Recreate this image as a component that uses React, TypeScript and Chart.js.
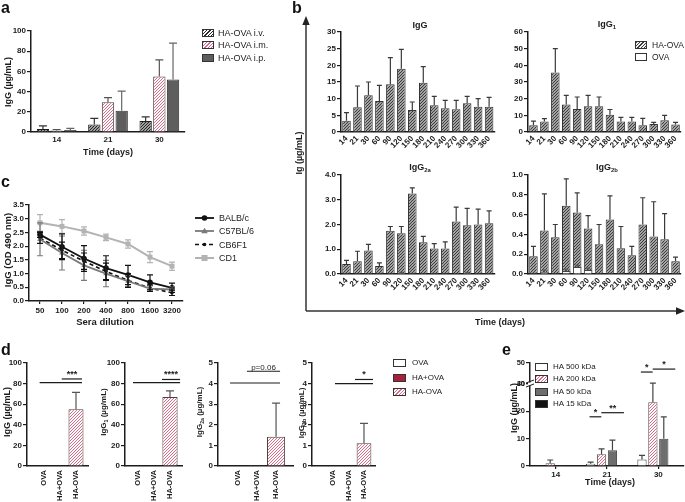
import React, { useEffect, useRef } from "react";
import { Chart, registerables } from "chart.js";
Chart.register(...registerables);

const FONT = "'Liberation Sans', Arial, Helvetica, sans-serif";
const INK = "#1c1c1c";

// ---------------- panel a ----------------
const aDays = ["14", "21", "30"];
const aIV = [3, 7.5, 11];
const aIVErr = [3, 6, 4];
const aIM = [1.5, 29.5, 55];
const aIMErr = [1, 4.5, 16.5];
const aIP = [2, 21, 52];
const aIPErr = [1.5, 19.5, 36];

// ---------------- panel b ----------------
const bDays = ["14", "21", "30", "60", "90", "120", "150", "180", "210", "240", "270", "300", "330", "360"];
const bIgG_HA = [3.4, 7.4, 11, 9.3, 14.3, 19, 6.6, 14.8, 8, 7.1, 6.8, 8.6, 7.6, 7.6];
const bIgG_HAerr = [2.4, 6.4, 4, 4.7, 8, 5.8, 2.4, 4.8, 2.7, 2.4, 2.7, 2.1, 2.4, 2.8];
const bIgG_OVA = [0, 0, 0, 0, 0, 0, 0, 0, 0, 0, 0, 0, 0, 0];
const bIgG1_HA = [4, 6.3, 35.7, 16.5, 13.8, 15.5, 15.5, 10.3, 6.3, 6.3, 4, 4.8, 7, 4.5];
const bIgG1_HAerr = [2.5, 1.7, 14.3, 5.5, 7.2, 6.5, 5.5, 3.2, 2.5, 2.5, 4.2, 1, 3, 1.3];
const bIgG1_OVA = [0, 0, 0, 0, 0, 0, 0, 0, 0, 0, 0, 0, 0, 0];
const bIgG2a_HA = [0.4, 0.52, 0.95, 0.32, 1.75, 1.65, 3.25, 1.28, 1.03, 1.03, 2.12, 1.97, 2.0, 2.05];
const bIgG2a_HAerr = [0.15, 0.4, 0.25, 0.13, 0.17, 0.27, 0.23, 0.24, 0.2, 0.27, 0.58, 0.68, 0.62, 0.5];
const bIgG2a_OVA = [0, 0, 0, 0, 0, 0.04, 0, 0, 0, 0, 0, 0.04, 0, 0];
const bIgG2a_OVAerr = [0, 0, 0, 0, 0, 0.03, 0, 0, 0, 0, 0, 0.03, 0, 0];
const bIgG2b_HA = [0.18, 0.44, 0.37, 0.69, 0.62, 0.46, 0.3, 0.55, 0.26, 0.19, 0.5, 0.38, 0.35, 0.13];
const bIgG2b_HAerr = [0.1, 0.37, 0.13, 0.27, 0.2, 0.13, 0.2, 0.24, 0.22, 0.09, 0.27, 0.35, 0.26, 0.04];
const bIgG2b_OVA = [0, 0.02, 0, 0.03, 0.07, 0.04, 0, 0, 0, 0, 0, 0, 0, 0];
const bIgG2b_OVAerr = [0, 0.02, 0, 0.02, 0.02, 0.02, 0, 0, 0, 0, 0, 0, 0, 0];

// ---------------- panel c ----------------
const dilutions = ["50", "100", "200", "400", "800", "1600", "3200"];
const cBALB = [2.42, 1.98, 1.55, 1.2, 0.95, 0.68, 0.48];
const cBALBerr = [0.1, 0.47, 0.47, 0.45, 0.35, 0.27, 0.17];
const cC57 = [2.25, 1.75, 1.3, 1.0, 0.72, 0.45, 0.42];
const cC57err = [0.6, 0.62, 0.55, 0.48, 0.2, 0.1, 0.1];
const cCB6 = [2.3, 1.85, 1.45, 1.08, 0.75, 0.47, 0.3];
const cCB6err = [0.2, 0.3, 0.3, 0.3, 0.25, 0.12, 0.1];
const cCD1 = [2.85, 2.72, 2.55, 2.32, 2.08, 1.6, 1.27];
const cCD1err = [0.3, 0.25, 0.15, 0.12, 0.15, 0.2, 0.15];

// ---------------- panel d ----------------
const dGroups = ["OVA", "HA+OVA", "HA-OVA"];
const dIgG = [0, 0, 55];
const dIgGerr = [0, 0, 16.5];
const dIgG1 = [0, 0.3, 67];
const dIgG1err = [0, 0, 6];
const dIgG2a = [0.02, 0.05, 1.42];
const dIgG2aerr = [0, 0, 1.63];
const dIgG2b = [0.03, 0.03, 1.1];
const dIgG2berr = [0, 0, 0.97];

// ---------------- panel e ----------------
const eDays = ["14", "21", "30"];
const e500 = [0.1, 0.8, 2.4];
const e500err = [0, 0.6, 1.5];
const e200 = [1.0, 4.3, 23.3];
const e200err = [1.2, 2, 7];
const e50 = [0.3, 5.8, 10];
const e50err = [0, 3.7, 8];
const e15 = [0.15, 0.15, 0.1];
const e15err = [0, 0, 0];

// ---------------- helpers ----------------
type Box = { L: number; T: number; W: number; H: number; PL: number; PR: number; PT: number; PB: number };

function hatch(ctx: CanvasRenderingContext2D, line: string, bg = "#fff", sp = 3, lw = 1) {
  const c = document.createElement("canvas");
  c.width = sp; c.height = sp;
  const g = c.getContext("2d")!;
  g.fillStyle = bg; g.fillRect(0, 0, sp, sp);
  g.strokeStyle = line; g.lineWidth = lw;
  g.beginPath();
  g.moveTo(0, sp); g.lineTo(sp, 0);
  g.moveTo(-1, 1); g.lineTo(1, -1);
  g.moveTo(sp - 1, sp + 1); g.lineTo(sp + 1, sp - 1);
  g.stroke();
  return ctx.createPattern(c, "repeat");
}

const errorPlugin = {
  id: "errbars",
  afterDatasetsDraw(chart: any) {
    const ctx = chart.ctx;
    chart.data.datasets.forEach((ds: any, i: number) => {
      if (!ds.errors) return;
      const meta = chart.getDatasetMeta(i);
      const ys = chart.scales[meta.yAxisID];
      ctx.save();
      ctx.strokeStyle = ds.errorColor || "#333";
      ctx.lineWidth = ds.errorWidth || 1.2;
      const cap = ds.capHalf ?? 3;
      meta.data.forEach((el: any, j: number) => {
        const e = ds.errors[j];
        if (!e) return;
        const raw = ds.data[j];
        const v = typeof raw === "object" ? raw.y : raw;
        const top = ys.getPixelForValue(v + e);
        const bot = ds.bothWays ? ys.getPixelForValue(v - e) : el.y;
        ctx.beginPath();
        ctx.moveTo(el.x, bot); ctx.lineTo(el.x, top);
        ctx.moveTo(el.x - cap, top); ctx.lineTo(el.x + cap, top);
        if (ds.bothWays) { ctx.moveTo(el.x - cap, bot); ctx.lineTo(el.x + cap, bot); }
        ctx.stroke();
      });
      ctx.restore();
    });
  },
};

const bracketPlugin = {
  id: "brackets",
  afterDraw(chart: any, _a: any, opts: any) {
    const items = (opts && opts.items) || [];
    const ctx = chart.ctx;
    items.forEach((b: any) => {
      const xs = chart.scales.x;
      const ys = chart.scales[b.axis || "y"];
      const x1 = xs.getPixelForValue(b.x1), x2 = xs.getPixelForValue(b.x2), y = ys.getPixelForValue(b.y);
      ctx.save();
      ctx.strokeStyle = INK; ctx.lineWidth = 1.2;
      ctx.beginPath(); ctx.moveTo(x1, y); ctx.lineTo(x2, y); ctx.stroke();
      if (b.label) {
        ctx.fillStyle = INK;
        ctx.font = `${b.weight || "bold"} ${b.size || 9}px ${FONT}`;
        ctx.textAlign = "center"; ctx.textBaseline = "alphabetic";
        ctx.fillText(b.label, (x1 + x2) / 2, y - (b.lift ?? 2));
      }
      ctx.restore();
    });
  },
};

const breakPlugin = {
  id: "axisbreak",
  afterDraw(chart: any) {
    const ctx = chart.ctx;
    const x = chart.chartArea.left;
    const y = chart.scales.y.top;
    ctx.save();
    ctx.fillStyle = "#fff";
    ctx.fillRect(x - 2, y - 1.5, 4, 3);
    ctx.strokeStyle = INK; ctx.lineWidth = 1;
    ctx.beginPath();
    ctx.moveTo(x - 4, y - 1); ctx.lineTo(x + 4, y - 4);
    ctx.moveTo(x - 4, y + 3); ctx.lineTo(x + 4, y);
    ctx.stroke();
    ctx.restore();
  },
};

function baseOpts(b: Box) {
  return {
    animation: false,
    responsive: false,
    events: [],
    layout: { padding: { left: 0, top: b.PT - b.T, right: b.L + b.W - b.PR, bottom: 0 } },
    plugins: { legend: { display: false }, tooltip: { enabled: false } },
  };
}

function yScale(b: Box, min: number, max: number, step: number, dec = 0, size = 8, extra: any = {}) {
  return {
    type: "linear",
    min, max,
    afterFit: (s: any) => { s.width = b.PL - b.L; },
    border: { display: true, color: INK, width: 1.5 },
    grid: { display: true, drawOnChartArea: false, drawTicks: true, tickLength: 4, color: INK, lineWidth: 1.2 },
    ticks: {
      stepSize: step, padding: 1, color: INK,
      font: { family: FONT, size, weight: "bold" },
      callback: (v: any) => Number(v).toFixed(dec),
    },
    ...extra,
  };
}

function xCat(b: Box, rot = 0, pad = 3, ticks = false, size = 8) {
  return {
    type: "category",
    offset: true,
    afterFit: (s: any) => { s.height = b.T + b.H - b.PB; },
    border: { display: true, color: INK, width: 1.5 },
    grid: { display: true, drawOnChartArea: false, drawTicks: ticks, tickLength: 3, color: INK, lineWidth: 1.2, offset: false },
    ticks: {
      autoSkip: false, minRotation: rot, maxRotation: rot, padding: pad, color: INK,
      font: { family: FONT, size, weight: "bold" },
    },
  };
}

function ChartCanvas({ box, build }: { box: Box; build: (ctx: CanvasRenderingContext2D) => any }) {
  const ref = useRef<HTMLCanvasElement | null>(null);
  useEffect(() => {
    const cv = ref.current!;
    const ctx = cv.getContext("2d")!;
    const chart = new Chart(cv, build(ctx));
    return () => chart.destroy();
  }, []);
  return (
    <canvas
      ref={ref}
      width={box.W}
      height={box.H}
      style={{ position: "absolute", left: box.L, top: box.T, width: box.W, height: box.H }}
    />
  );
}

// ---------------- boxes ----------------
const boxA: Box = { L: 0, T: 22, W: 190, H: 142, PL: 31, PR: 185, PT: 31, PB: 132 };
const boxB1: Box = { L: 318, T: 26, W: 180, H: 128, PL: 341, PR: 495, PT: 32, PB: 132 };
const boxB2: Box = { L: 505, T: 26, W: 180, H: 128, PL: 528, PR: 681, PT: 32, PB: 132 };
const boxB3: Box = { L: 318, T: 169, W: 180, H: 128, PL: 341, PR: 495, PT: 175, PB: 274 };
const boxB4: Box = { L: 505, T: 169, W: 180, H: 128, PL: 528, PR: 681, PT: 175, PB: 274 };
const boxC: Box = { L: 0, T: 197, W: 190, H: 120, PL: 29, PR: 183, PT: 205, PB: 301 };
const boxD1: Box = { L: 0, T: 355, W: 92, H: 147, PL: 27, PR: 88, PT: 363, PB: 466 };
const boxD2: Box = { L: 100, T: 355, W: 86, H: 147, PL: 125, PR: 182, PT: 363, PB: 466 };
const boxD3: Box = { L: 195, T: 355, W: 102, H: 147, PL: 218, PR: 293, PT: 363, PB: 466 };
const boxD4: Box = { L: 298, T: 355, W: 80, H: 147, PL: 312, PR: 375, PT: 363, PB: 466 };
const boxE: Box = { L: 511, T: 355, W: 174, H: 126, PL: 530, PR: 684, PT: 363, PB: 466 };

// ---------------- builders ----------------
const buildA = (ctx: CanvasRenderingContext2D) => ({
  type: "bar",
  data: {
    labels: aDays,
    datasets: [
      { data: aIV, errors: aIVErr, errorColor: "#333", capHalf: 4, backgroundColor: hatch(ctx, "#262626", "#fff", 3, 1.3), borderColor: INK, borderWidth: 1 },
      { data: aIM, errors: aIMErr, errorColor: "#555", capHalf: 4, backgroundColor: hatch(ctx, "#df6a86"), borderColor: "#444", borderWidth: 1 },
      { data: aIP, errors: aIPErr, errorColor: "#666", capHalf: 4, backgroundColor: "#5e5e5e", borderColor: "#333", borderWidth: 1 },
    ],
  },
  options: {
    ...baseOpts(boxA),
    datasets: { bar: { categoryPercentage: 0.8, barPercentage: 0.9 } },
    scales: { x: xCat(boxA, 0, 3), y: yScale(boxA, 0, 100, 20) },
  },
  plugins: [errorPlugin],
});

function buildB(box: Box, ha: number[], haErr: number[], ova: number[], ovaErr: number[] | null, max: number, step: number, dec: number) {
  return (ctx: CanvasRenderingContext2D) => ({
    type: "bar",
    data: {
      labels: bDays,
      datasets: [
        { data: ova, errors: ovaErr, errorColor: "#555", capHalf: 2, backgroundColor: "#fff", borderColor: "#444", borderWidth: 1 },
        { data: ha, errors: haErr, errorColor: "#3a3a3a", capHalf: 2.5, backgroundColor: hatch(ctx, "#3c3c3c", "#f2f2f2", 3, 1.25), borderColor: "#333", borderWidth: 1 },
      ],
    },
    options: {
      ...baseOpts(box),
      datasets: { bar: { categoryPercentage: 1, barPercentage: 0.78, grouped: false } },
      scales: { x: xCat(box, 45, 2), y: yScale(box, 0, max, step, dec) },
    },
    plugins: [errorPlugin],
  });
}

const buildC = () => ({
  type: "line",
  data: {
    labels: dilutions,
    datasets: [
      { data: cCD1, errors: cCD1err, bothWays: true, errorColor: "#b3b3b3", capHalf: 3, borderColor: "#b3b3b3", backgroundColor: "#b3b3b3", borderWidth: 2, pointStyle: "rect", pointRadius: 3.5, pointBorderWidth: 0, tension: 0 },
      { data: cC57, errors: cC57err, bothWays: true, errorColor: "#7a7a7a", capHalf: 3, borderColor: "#7a7a7a", backgroundColor: "#7a7a7a", borderWidth: 1.8, pointStyle: "triangle", pointRadius: 3.2, pointBorderWidth: 0, tension: 0 },
      { data: cCB6, errors: cCB6err, bothWays: true, errorColor: "#111", capHalf: 3, borderColor: "#111", backgroundColor: "#111", borderWidth: 1.6, borderDash: [4, 3], pointStyle: "circle", pointRadius: 1.8, pointBorderWidth: 0, tension: 0 },
      { data: cBALB, errors: cBALBerr, bothWays: true, errorColor: "#111", capHalf: 3, borderColor: "#111", backgroundColor: "#111", borderWidth: 1.8, pointStyle: "circle", pointRadius: 2.8, pointBorderWidth: 0, tension: 0 },
    ],
  },
  options: {
    ...baseOpts(boxC),
    scales: { x: xCat(boxC, 0, 2, true), y: yScale(boxC, 0, 3.5, 0.5, 1) },
  },
  plugins: [errorPlugin],
});

function buildD(box: Box, vals: number[], errs: number[], xmin: number, xmax: number, ymax: number, ystep: number, brackets: any[]) {
  return (ctx: CanvasRenderingContext2D) => ({
    type: "bar",
    data: {
      datasets: [
        {
          data: dGroups.map((_, i) => ({ x: i + 1, y: vals[i] })),
          errors: errs, errorColor: "#555", capHalf: 4,
          backgroundColor: ["#ffffff", "#a8203c", hatch(ctx, "#df6a86")],
          borderColor: "#444", borderWidth: 1,
        },
      ],
    },
    options: {
      ...baseOpts(box),
      datasets: { bar: { categoryPercentage: 1, barPercentage: 0.95 } },
      plugins: { legend: { display: false }, tooltip: { enabled: false }, brackets: { items: brackets } },
      scales: {
        x: {
          type: "linear", min: xmin, max: xmax, offset: false,
          afterFit: (s: any) => { s.height = box.T + box.H - box.PB; },
          border: { display: true, color: INK, width: 1.5 },
          grid: { display: true, drawOnChartArea: false, drawTicks: false, offset: false },
          ticks: {
            stepSize: 1, includeBounds: false, autoSkip: false, minRotation: 90, maxRotation: 90, padding: 4, color: INK,
            font: { family: FONT, size: 7.5, weight: "bold" },
            callback: (v: any) => dGroups[v - 1] ?? "",
          },
        },
        y: yScale(box, 0, ymax, ystep),
      },
    },
    plugins: [errorPlugin, bracketPlugin],
  });
}

const buildE = (ctx: CanvasRenderingContext2D) => ({
  type: "bar",
  data: {
    labels: eDays,
    datasets: [
      { data: e500, errors: e500err, errorColor: "#444", capHalf: 3, backgroundColor: "#ffffff", borderColor: "#444", borderWidth: 1 },
      { data: e200, errors: e200err, errorColor: "#444", capHalf: 3, backgroundColor: hatch(ctx, "#df6a86"), borderColor: "#555", borderWidth: 1 },
      { data: e50, errors: e50err, errorColor: "#444", capHalf: 3, backgroundColor: "#6e6e6e", borderColor: "#444", borderWidth: 1 },
      { data: e15, errors: e15err, errorColor: "#111", capHalf: 3, backgroundColor: "#111111", borderColor: "#111", borderWidth: 1 },
    ],
  },
  options: {
    ...baseOpts(boxE),
    datasets: { bar: { categoryPercentage: 0.85, barPercentage: 0.85 } },
    plugins: {
      legend: { display: false }, tooltip: { enabled: false },
      brackets: {
        items: [
          { x1: 0.66, x2: 0.89, y: 18, label: "*" },
          { x1: 0.89, x2: 1.33, y: 19.5, label: "**" },
          { x1: 1.66, x2: 1.89, y: 45.7, label: "*", axis: "y2" },
          { x1: 1.89, x2: 2.33, y: 47.1, label: "*", axis: "y2" },
        ],
      },
    },
    scales: {
      x: xCat(boxE, 0, 1, true),
      y: yScale(boxE, 0, 30, 5, 0, 7.5, { position: "left", stack: "e", stackWeight: 82 }),
      y2: yScale(boxE, 40, 50, 5, 0, 7.5, { position: "left", axis: "y", stack: "e", stackWeight: 21 }),
    },
  },
  plugins: [errorPlugin, bracketPlugin, breakPlugin],
});

// ---------------- HTML text helpers ----------------
function Txt({ x, y, size = 9, bold = true, align = "center", rot = false, children }: any) {
  let tf = "translate(-50%,-50%)";
  if (rot) tf += " rotate(-90deg)";
  if (align === "left") tf = "translate(0,-50%)";
  return (
    <div
      style={{
        position: "absolute", left: x, top: y, transform: tf,
        fontFamily: FONT, fontSize: size, fontWeight: bold ? 700 : 400,
        lineHeight: 1, whiteSpace: "nowrap", color: INK,
      }}
    >
      {children}
    </div>
  );
}

function Sub({ children }: any) {
  return <span style={{ fontSize: "0.65em", position: "relative", top: "0.3em" }}>{children}</span>;
}

function Letter({ x, base, ch }: any) {
  return (
    <div style={{ position: "absolute", left: x, top: base - 13.5, fontFamily: FONT, fontSize: 16, fontWeight: 700, lineHeight: 1, color: "#111" }}>
      {ch}
    </div>
  );
}

function LBox({ x, y, w = 12, h = 8, bg }: any) {
  return (
    <div style={{ position: "absolute", left: x, top: y - h / 2, width: w, height: h, background: bg, border: "1px solid #333", boxSizing: "border-box" }} />
  );
}

const hatchCss = (c: string, bg = "#fff") => `repeating-linear-gradient(135deg, ${c} 0px, ${c} 1px, ${bg} 1px, ${bg} 2.4px)`;

export default function App() {
  return (
    <div style={{ position: "fixed", left: 0, top: 0, width: 685, height: 502, background: "#fff", overflow: "hidden" }}>
      <ChartCanvas box={boxA} build={buildA} />
      <ChartCanvas box={boxB1} build={buildB(boxB1, bIgG_HA, bIgG_HAerr, bIgG_OVA, null, 30, 5, 0)} />
      <ChartCanvas box={boxB2} build={buildB(boxB2, bIgG1_HA, bIgG1_HAerr, bIgG1_OVA, null, 60, 10, 0)} />
      <ChartCanvas box={boxB3} build={buildB(boxB3, bIgG2a_HA, bIgG2a_HAerr, bIgG2a_OVA, bIgG2a_OVAerr, 4, 0.5, 1)} />
      <ChartCanvas box={boxB4} build={buildB(boxB4, bIgG2b_HA, bIgG2b_HAerr, bIgG2b_OVA, bIgG2b_OVAerr, 1, 0.2, 1)} />
      <ChartCanvas box={boxC} build={buildC} />
      <ChartCanvas
        box={boxD1}
        build={buildD(boxD1, dIgG, dIgGerr, -0.1, 3.76, 100, 20, [
          { x1: 0.7, x2: 3.38, y: 81 },
          { x1: 2.1, x2: 3.38, y: 84.5, label: "***" },
        ])}
      />
      <ChartCanvas
        box={boxD2}
        build={buildD(boxD2, dIgG1, dIgG1err, 0.19, 3.75, 100, 20, [
          { x1: 0.69, x2: 3.63, y: 81 },
          { x1: 2.5, x2: 3.63, y: 84, label: "****" },
        ])}
      />
      <ChartCanvas
        box={boxD3}
        build={buildD(boxD3, dIgG2a, dIgG2aerr, -0.05, 3.89, 5, 1, [
          { x1: 0.58, x2: 3.21, y: 4.03 },
          { x1: 1.47, x2: 3.21, y: 4.6, label: "p=0.06", weight: "normal", size: 8, lift: 1.5 },
        ])}
      />
      <ChartCanvas
        box={boxD4}
        build={buildD(boxD4, dIgG2b, dIgG2berr, -0.35, 3.71, 5, 1, [
          { x1: 1.13, x2: 3.58, y: 4.0 },
          { x1: 2.42, x2: 3.58, y: 4.2, label: "*" },
        ])}
      />
      <ChartCanvas box={boxE} build={buildE} />

      {/* overlay graphics: arrows in b and line samples of legend c */}
      <svg width={685} height={502} style={{ position: "absolute", left: 0, top: 0, pointerEvents: "none" }}>
        <line x1={306} y1={311} x2={306} y2={24} stroke="#333" strokeWidth={1.5} />
        <polygon points="306,16 302.3,25 309.7,25" fill="#222" />
        <line x1={306} y1={311} x2={677} y2={311} stroke="#333" strokeWidth={1.5} />
        <polygon points="685,311 676,307.3 676,314.7" fill="#222" />

        <line x1={195} y1={218} x2={214} y2={218} stroke="#111" strokeWidth={1.8} />
        <circle cx={204.5} cy={218} r={2.8} fill="#111" />
        <line x1={195} y1={231} x2={214} y2={231} stroke="#7a7a7a" strokeWidth={1.8} />
        <polygon points="204.5,227.8 207.8,233.2 201.2,233.2" fill="#7a7a7a" />
        <line x1={195} y1={244.5} x2={214} y2={244.5} stroke="#111" strokeWidth={1.6} strokeDasharray="4 3" />
        <circle cx={204.5} cy={244.5} r={1.8} fill="#111" />
        <line x1={195} y1={258} x2={214} y2={258} stroke="#b3b3b3" strokeWidth={2} />
        <rect x={201.5} y={255} width={6} height={6} fill="#b3b3b3" />
      </svg>

      {/* panel letters */}
      <Letter x={1} base={13} ch="a" />
      <Letter x={292} base={13} ch="b" />
      <Letter x={1} base={187} ch="c" />
      <Letter x={1} base={355} ch="d" />
      <Letter x={502} base={355} ch="e" />

      {/* panel a texts */}
      <Txt x={8} y={82} rot>IgG (µg/mL)</Txt>
      <Txt x={108} y={152}>Time (days)</Txt>
      <LBox x={202} y={33} bg={hatchCss("#262626")} />
      <LBox x={202} y={45} bg={hatchCss("#df6a86")} />
      <LBox x={202} y={57.5} bg="#5e5e5e" />
      <Txt x={218} y={33} bold={false} align="left">HA-OVA i.v.</Txt>
      <Txt x={218} y={45} bold={false} align="left">HA-OVA i.m.</Txt>
      <Txt x={218} y={57.5} bold={false} align="left">HA-OVA i.p.</Txt>

      {/* panel b texts */}
      <Txt x={299} y={153} rot>Ig (µg/mL)</Txt>
      <Txt x={500} y={322}>Time (days)</Txt>
      <Txt x={420} y={25}>IgG</Txt>
      <Txt x={607} y={24}>IgG<Sub>1</Sub></Txt>
      <Txt x={420} y={167}>IgG<Sub>2a</Sub></Txt>
      <Txt x={607} y={167}>IgG<Sub>2b</Sub></Txt>
      <LBox x={635} y={45} bg={hatchCss("#3c3c3c", "#f2f2f2")} />
      <LBox x={635} y={57} bg="#fff" />
      <Txt x={652} y={45} size={8.5} bold={false} align="left">HA-OVA</Txt>
      <Txt x={652} y={57} size={8.5} bold={false} align="left">OVA</Txt>

      {/* panel c texts */}
      <Txt x={8} y={250} size={9.5} rot>IgG (OD 490 nm)</Txt>
      <Txt x={105} y={322} size={9.5}>Sera dilution</Txt>
      <Txt x={219} y={218} bold={false} align="left">BALB/c</Txt>
      <Txt x={219} y={231} bold={false} align="left">C57BL/6</Txt>
      <Txt x={219} y={244.5} bold={false} align="left">CB6F1</Txt>
      <Txt x={219} y={258} bold={false} align="left">CD1</Txt>

      {/* panel d texts */}
      <Txt x={7} y={412} rot>IgG (µg/mL)</Txt>
      <Txt x={104} y={412} size={8} rot>IgG<Sub>1</Sub> (µg/mL)</Txt>
      <Txt x={200} y={412} size={8} rot>IgG<Sub>2a</Sub> (µg/mL)</Txt>
      <Txt x={302} y={413} size={8} rot>IgG<Sub>2b</Sub> (µg/mL)</Txt>
      <LBox x={393} y={363} w={13} bg="#fff" />
      <LBox x={393} y={377.5} w={13} bg="#a8203c" />
      <LBox x={393} y={392} w={13} bg={hatchCss("#df6a86")} />
      <Txt x={412} y={363} size={8} bold={false} align="left">OVA</Txt>
      <Txt x={412} y={377.5} size={8} bold={false} align="left">HA+OVA</Txt>
      <Txt x={412} y={392} size={8} bold={false} align="left">HA-OVA</Txt>

      {/* panel e texts */}
      <Txt x={514} y={408} rot>IgG (µg/mL)</Txt>
      <Txt x={610} y={482}>Time (days)</Txt>
      <LBox x={535} y={366.5} w={13} bg="#fff" />
      <LBox x={535} y={379} w={13} bg={hatchCss("#df6a86")} />
      <LBox x={535} y={391.5} w={13} bg="#6e6e6e" />
      <LBox x={535} y={404} w={13} bg="#111" />
      <Txt x={553} y={366.5} size={8} bold={false} align="left">HA 500 kDa</Txt>
      <Txt x={553} y={379} size={8} bold={false} align="left">HA 200 kDa</Txt>
      <Txt x={553} y={391.5} size={8} bold={false} align="left">HA 50 kDa</Txt>
      <Txt x={553} y={404} size={8} bold={false} align="left">HA 15 kDa</Txt>
    </div>
  );
}
